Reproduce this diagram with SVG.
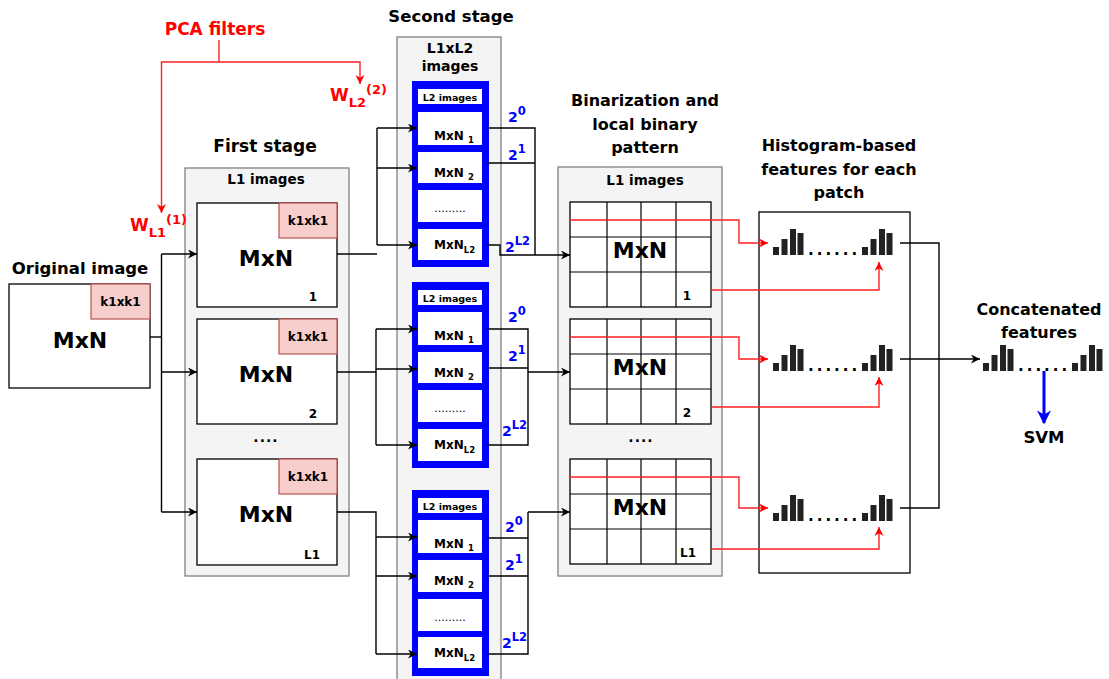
<svg xmlns="http://www.w3.org/2000/svg" xmlns:xlink="http://www.w3.org/1999/xlink" width="1109" height="679" viewBox="0 0 1109 679">
<style>
text{font-family:"DejaVu Sans","Liberation Sans",sans-serif;font-weight:bold;fill:#000}
.c{text-anchor:middle}
.red{fill:#ff0000}
.blue{fill:#0000ff}
.cont{fill:#f4f4f4;stroke:#808080;stroke-width:1.3}
.box{fill:#fff;stroke:#000;stroke-width:1.3}
.pink{fill:#f8cecc;stroke:#b85450;stroke-width:1.2}
.grid{fill:none;stroke:#000;stroke-width:1.2}
.bl{fill:#0000ff}
.wb{fill:#fff}
.k{fill:none;stroke:#000;stroke-width:1.4}
.r{fill:none;stroke:#ff2020;stroke-width:1.4}
.t17{font-size:17px}
.t16{font-size:16px}
.t14{font-size:14px}
.t13{font-size:13.5px}
.t12{font-size:12px}
.t10{font-size:9.5px}
.big{font-size:22px}
.dots{font-size:15px;letter-spacing:3px}
.sm{font-size:11px;font-weight:normal}
</style>
<defs>
<marker id="ak" viewBox="0 0 10 10" refX="10" refY="5" markerWidth="9" markerHeight="9" markerUnits="userSpaceOnUse" orient="auto"><path d="M0,0 L10,5 L0,10 L3,5 z" fill="#000"/></marker>
<marker id="ar" viewBox="0 0 10 10" refX="10" refY="5" markerWidth="9" markerHeight="9" markerUnits="userSpaceOnUse" orient="auto"><path d="M0,0 L10,5 L0,10 L3,5 z" fill="#ff0000"/></marker>
<marker id="ab" viewBox="0 0 10 10" refX="9" refY="5" markerWidth="14" markerHeight="14" markerUnits="userSpaceOnUse" orient="auto"><path d="M0,0 L10,5 L0,10 L3,5 z" fill="#0000ff"/></marker>
<g id="bars">
<rect x="0" y="-8" width="6" height="8" fill="#222"/>
<rect x="8.5" y="-16" width="6" height="16" fill="#222"/>
<rect x="17" y="-26" width="6" height="26" fill="#222"/>
<rect x="24.5" y="-22" width="6" height="22" fill="#222"/>
</g>
</defs>
<rect width="1109" height="679" fill="#fff"/>

<!-- containers -->
<g id="first-stage">
<text class="t17 c" x="265" y="152">First stage</text>
<rect class="cont" x="185" y="168" width="164" height="408"/>
<text class="t13 c" x="266" y="184">L1 images</text>
<text class="t14 c" x="266" y="442" letter-spacing="1">....</text>
</g>
<g id="second-stage">
<text class="c" font-size="16.5" x="451" y="22">Second stage</text>
<rect class="cont" x="397" y="37" width="104" height="660"/>
<text class="t14 c" x="450" y="53">L1xL2</text>
<text class="t14 c" x="450" y="71">images</text>
</g>
<g id="binarization">
<text class="t16 c" x="645" y="106">Binarization and</text>
<text class="t16 c" x="645" y="130">local binary</text>
<text class="t16 c" x="645" y="153">pattern</text>
<rect class="cont" x="558" y="167" width="164" height="409"/>
<text class="t13 c" x="645" y="185">L1 images</text>
<text class="t14 c" x="641" y="442" letter-spacing="1">....</text>
</g>
<g id="histogram">
<text class="t16 c" x="839" y="151">Histogram-based</text>
<text class="t16 c" x="839" y="175">features for each</text>
<text class="t16 c" x="839" y="198">patch</text>
<rect class="box" x="759" y="212" width="151" height="361"/>
<use xlink:href="#bars" x="773" y="255"/><text class="dots" x="808" y="255">......</text><use xlink:href="#bars" x="862" y="255"/>
<use xlink:href="#bars" x="773" y="371"/><text class="dots" x="808" y="371">......</text><use xlink:href="#bars" x="862" y="371"/>
<use xlink:href="#bars" x="773" y="521"/><text class="dots" x="808" y="521">......</text><use xlink:href="#bars" x="862" y="521"/>
</g>

<!-- PCA filters -->
<g id="pca">
<text class="t17 c red" x="215" y="35">PCA filters</text>
<text class="red" x="130" y="231" font-size="17">W<tspan font-size="13" dy="6">L1</tspan><tspan font-size="13" dy="-13">(1)</tspan></text>
<text class="red" x="330" y="101" font-size="17">W<tspan font-size="13" dy="6">L2</tspan><tspan font-size="13" dy="-13">(2)</tspan></text>
</g>

<!-- original image -->
<g id="original">
<text class="c" font-size="16.5" x="80" y="274">Original image</text>
<rect class="box" x="9" y="284" width="141" height="104"/>
<rect class="pink" x="91" y="284" width="59" height="35"/>
<text class="t12 c" x="120.5" y="306">k1xk1</text>
<text class="big c" x="80" y="348">MxN</text>
</g>

<!-- first stage boxes -->
<g id="fs1">
<rect class="box" x="197" y="203" width="140" height="104"/>
<rect class="pink" x="279" y="203" width="58" height="35"/>
<text class="t12 c" x="308" y="225">k1xk1</text>
<text class="big c" x="266" y="266">MxN</text>
<text class="t12 c" x="313" y="301">1</text>
</g>
<g id="fs2">
<rect class="box" x="197" y="319" width="140" height="105"/>
<rect class="pink" x="279" y="319" width="58" height="35"/>
<text class="t12 c" x="308" y="341">k1xk1</text>
<text class="big c" x="266" y="382">MxN</text>
<text class="t12 c" x="313" y="418">2</text>
</g>
<g id="fsL1">
<rect class="box" x="197" y="459" width="140" height="106"/>
<rect class="pink" x="279" y="459" width="58" height="35"/>
<text class="t12 c" x="308" y="481">k1xk1</text>
<text class="big c" x="266" y="522">MxN</text>
<text class="t12 c" x="312" y="559">L1</text>
</g>

<!-- second stage groups -->
<g id="ss1">
<rect class="bl" x="412" y="81" width="77" height="186"/>
<rect class="wb" x="418" y="89" width="64" height="15"/>
<text class="t10 c" x="450" y="101">L2 images</text>
<rect class="wb" x="418" y="112" width="64" height="33"/>
<text class="t12" x="434" y="140">MxN <tspan font-size="8.5" dy="3">1</tspan></text>
<rect class="wb" x="418" y="152" width="64" height="31"/>
<text class="t12" x="434" y="177">MxN <tspan font-size="8.5" dy="3">2</tspan></text>
<rect class="wb" x="418" y="190" width="64" height="32"/>
<text class="c sm" x="450" y="212">.........</text>
<rect class="wb" x="418" y="229" width="64" height="31"/>
<text class="t12" x="434" y="249">MxN<tspan font-size="8.5" dy="4">L2</tspan></text>
</g>
<g id="ss2">
<rect class="bl" x="412" y="282" width="77" height="186"/>
<rect class="wb" x="418" y="290" width="64" height="15"/>
<text class="t10 c" x="450" y="302">L2 images</text>
<rect class="wb" x="418" y="312" width="64" height="33"/>
<text class="t12" x="434" y="340">MxN <tspan font-size="8.5" dy="3">1</tspan></text>
<rect class="wb" x="418" y="352" width="64" height="31"/>
<text class="t12" x="434" y="377">MxN <tspan font-size="8.5" dy="3">2</tspan></text>
<rect class="wb" x="418" y="390" width="64" height="32"/>
<text class="c sm" x="450" y="412">.........</text>
<rect class="wb" x="418" y="429" width="64" height="32"/>
<text class="t12" x="434" y="449">MxN<tspan font-size="8.5" dy="4">L2</tspan></text>
</g>
<g id="ss3">
<rect class="bl" x="412" y="490" width="77" height="186"/>
<rect class="wb" x="418" y="498" width="64" height="15"/>
<text class="t10 c" x="450" y="510">L2 images</text>
<rect class="wb" x="418" y="520" width="64" height="33"/>
<text class="t12" x="434" y="548">MxN <tspan font-size="8.5" dy="3">1</tspan></text>
<rect class="wb" x="418" y="560" width="64" height="32"/>
<text class="t12" x="434" y="585">MxN <tspan font-size="8.5" dy="3">2</tspan></text>
<rect class="wb" x="418" y="599" width="64" height="32"/>
<text class="c sm" x="450" y="621">.........</text>
<rect class="wb" x="418" y="637" width="64" height="31"/>
<text class="t12" x="434" y="657">MxN<tspan font-size="8.5" dy="4">L2</tspan></text>
</g>

<!-- binary labels -->
<g id="weights">
<text class="t14 blue" x="508" y="122">2<tspan font-size="11.5" dy="-7">0</tspan></text>
<text class="t14 blue" x="508" y="160">2<tspan font-size="11.5" dy="-7">1</tspan></text>
<text class="t14 blue" x="505" y="252">2<tspan font-size="11.5" dy="-7">L2</tspan></text>
<text class="t14 blue" x="508" y="322">2<tspan font-size="11.5" dy="-7">0</tspan></text>
<text class="t14 blue" x="508" y="361">2<tspan font-size="11.5" dy="-7">1</tspan></text>
<text class="t14 blue" x="502" y="436">2<tspan font-size="11.5" dy="-7">L2</tspan></text>
<text class="t14 blue" x="505" y="532">2<tspan font-size="11.5" dy="-7">0</tspan></text>
<text class="t14 blue" x="505" y="570">2<tspan font-size="11.5" dy="-7">1</tspan></text>
<text class="t14 blue" x="502" y="648">2<tspan font-size="11.5" dy="-7">L2</tspan></text>
</g>

<!-- binarization grids -->
<g id="grid1">
<rect class="box" x="570" y="202" width="141" height="105"/>
<path class="grid" d="M607,202V307M641,202V307M676,202V307M570,237H711M570,272H711"/>
<text class="big c" x="640" y="258">MxN</text>
<text class="t12 c" x="687" y="300">1</text>
</g>
<g id="grid2">
<rect class="box" x="570" y="319" width="141" height="105"/>
<path class="grid" d="M607,319V424M641,319V424M676,319V424M570,354H711M570,389H711"/>
<text class="big c" x="640" y="375">MxN</text>
<text class="t12 c" x="687" y="417">2</text>
</g>
<g id="grid3">
<rect class="box" x="570" y="459" width="141" height="105"/>
<path class="grid" d="M607,459V564M641,459V564M676,459V564M570,494H711M570,529H711"/>
<text class="big c" x="640" y="515">MxN</text>
<text class="t12 c" x="688" y="557">L1</text>
</g>

<!-- concatenated -->
<g id="concat">
<text class="t16 c" x="1039" y="315">Concatenated</text>
<text class="t16 c" x="1039" y="338">features</text>
<use xlink:href="#bars" x="983" y="371"/><text class="dots" x="1018" y="371">......</text><use xlink:href="#bars" x="1072" y="371"/>
</g>
<g id="svm">
<text class="c" font-size="16.5" x="1044" y="443">SVM</text>
</g>

<!-- connectors -->
<g id="connectors">
<path class="r" d="M219,40V62"/>
<path class="r" d="M219,62H161.5V213" marker-end="url(#ar)"/>
<path class="r" d="M219,62H360V84" marker-end="url(#ar)"/>
<path class="k" d="M150,337H161.5"/>
<path class="k" d="M161.5,254V512"/>
<path class="k" d="M161.5,254H197" marker-end="url(#ak)"/>
<path class="k" d="M161.5,372H197" marker-end="url(#ak)"/>
<path class="k" d="M161.5,512H197" marker-end="url(#ak)"/>
<path class="k" d="M337,254H377"/>
<path class="k" d="M377,128V245"/>
<path class="k" d="M377,128H417" marker-end="url(#ak)"/>
<path class="k" d="M377,168H417" marker-end="url(#ak)"/>
<path class="k" d="M377,245H417" marker-end="url(#ak)"/>
<path class="k" d="M337,372H376"/>
<path class="k" d="M376,329V445"/>
<path class="k" d="M376,329H417" marker-end="url(#ak)"/>
<path class="k" d="M376,369H417" marker-end="url(#ak)"/>
<path class="k" d="M376,445H417" marker-end="url(#ak)"/>
<path class="k" d="M337,512H376V654"/>
<path class="k" d="M376,537H417" marker-end="url(#ak)"/>
<path class="k" d="M376,576H417" marker-end="url(#ak)"/>
<path class="k" d="M376,654H417" marker-end="url(#ak)"/>
<path class="k" d="M487,128H535V255"/>
<path class="k" d="M487,163H535"/>
<path class="k" d="M487,245H500V255H570" marker-end="url(#ak)"/>
<path class="k" d="M487,329H528V445H487"/>
<path class="k" d="M487,368H528"/>
<path class="k" d="M528,372H570" marker-end="url(#ak)"/>
<path class="k" d="M487,538H528"/>
<path class="k" d="M487,576H528"/>
<path class="k" d="M487,654H528V512"/>
<path class="k" d="M528,512H570" marker-end="url(#ak)"/>
<path class="r" d="M570,220H739V243H768" marker-end="url(#ar)"/>
<path class="r" d="M711,290H879V262" marker-end="url(#ar)"/>
<path class="r" d="M570,337H739V359H768" marker-end="url(#ar)"/>
<path class="r" d="M711,407H879V377" marker-end="url(#ar)"/>
<path class="r" d="M570,477H739V508H768" marker-end="url(#ar)"/>
<path class="r" d="M711,549H879V527" marker-end="url(#ar)"/>
<path class="k" d="M900,243H939V508H900"/>
<path class="k" d="M900,359H980" marker-end="url(#ak)"/>
<path d="M1044,371V423" fill="none" stroke="#0000ff" stroke-width="3" marker-end="url(#ab)"/>
</g>
</svg>
